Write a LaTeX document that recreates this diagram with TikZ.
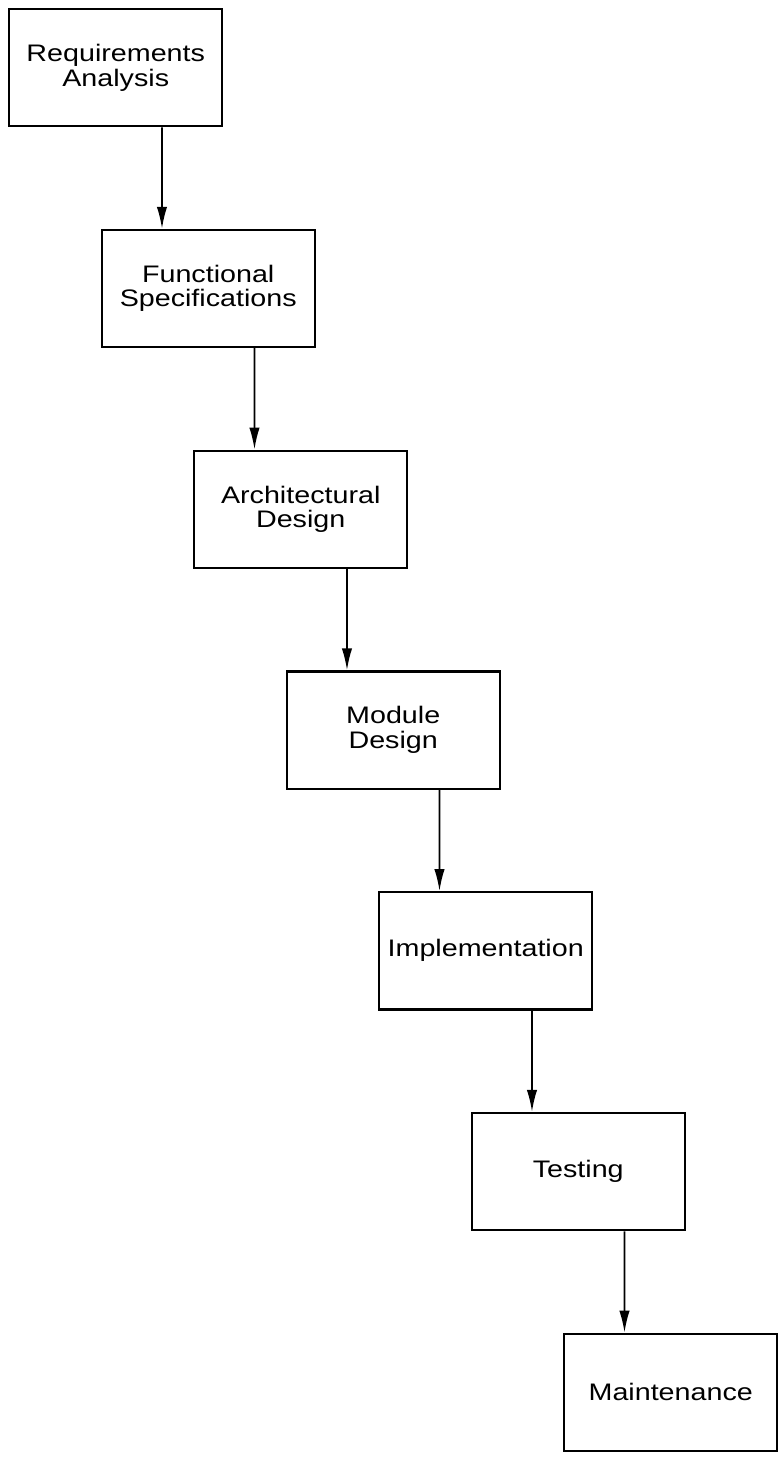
\documentclass[tikz,border=0pt]{standalone}
\usepackage{fontspec}
\setmainfont{Liberation Sans}[FakeStretch=1.2]
\usepackage{tikz}
\usetikzlibrary{positioning, arrows.meta}

\tikzset{
  stage/.style={draw, line width=1.6pt, minimum width=5.33cm, minimum height=2.93cm,
    inner sep=0pt, align=center, font=\fontsize{17}{17.5}\selectfont},
  flow/.style={-{Latex[length=5.5mm, width=2.6mm]}, line width=1.3pt}
}

\begin{document}
\begin{tikzpicture}[node distance=2.533cm]
	\useasboundingbox (0,0) rectangle (19.475,-36.425);
	\node[stage, anchor=north west] (req) at (0.2,-0.2) {Requirements\\Analysis};
	\node[stage, below =of req, xshift=2.3125cm] (spec) {Functional\\Specifications};
	\node[stage, below =of spec, xshift=2.3125cm] (arch) {Architectural\\Design};
	\node[stage, below =of arch, xshift=2.3125cm] (mod) {Module\\Design};
	\node[stage, below =of mod, xshift=2.3125cm] (impl) {Implementation};
	\node[stage, below =of impl, xshift=2.3125cm] (test) {Testing};
	\node[stage, below =of test, xshift=2.3125cm] (maint) {Maintenance};
	% arrows sit halfway between the two box centres
	\foreach \a/\b in {req/spec, spec/arch, arch/mod, mod/impl, impl/test, test/maint}
		\draw[flow] ([xshift=1.156cm]\a.south) -- ([xshift=-1.156cm]\b.north);
\end{tikzpicture}
\end{document}
